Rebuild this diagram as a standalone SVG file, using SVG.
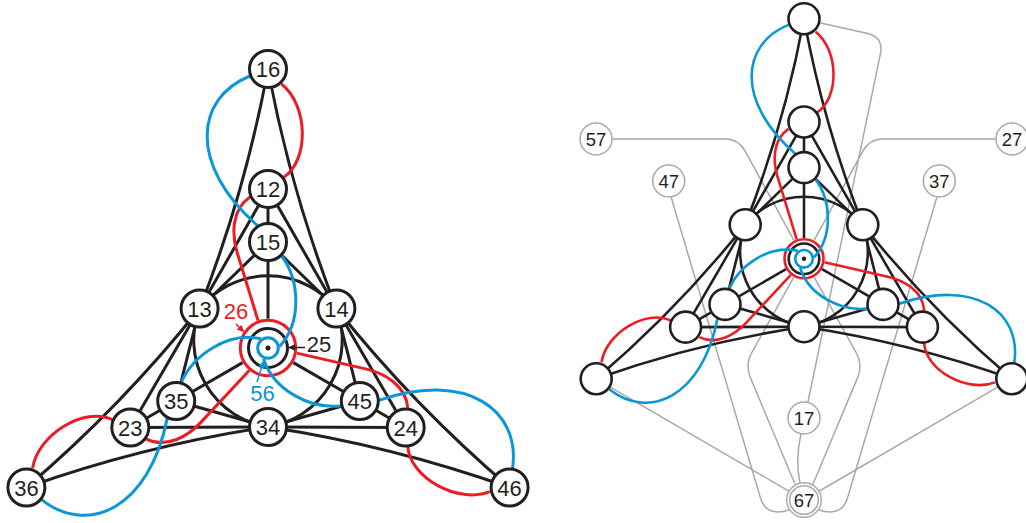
<svg xmlns="http://www.w3.org/2000/svg" width="1026" height="523" viewBox="0 0 1026 523">
<style>
.k{fill:none;stroke:#231f20;stroke-width:3}
.rd{fill:none;stroke:#ed1c24;stroke-width:3}
.bl{fill:none;stroke:#0a97d6;stroke-width:3}
.gy{fill:none;stroke:#a7a9ac;stroke-width:1.5}
.nd circle{fill:#fff;stroke:#231f20;stroke-width:3}
.rn circle{fill:#fff;stroke:#231f20;stroke-width:2.6}
.gn circle{fill:#fff;stroke:#a7a9ac;stroke-width:1.5}
text{font-family:"Liberation Sans",Arial,Helvetica,sans-serif;text-anchor:middle}
.lb{font-size:22px;fill:#231f20}
.gl{font-size:18.5px;fill:#231f20}
.ar{stroke-width:1.5;fill:none}
</style>
<defs>
<marker id="ahr" viewBox="0 0 10 10" refX="9" refY="5" markerWidth="7" markerHeight="7" markerUnits="userSpaceOnUse" orient="auto"><path d="M0,0L10,5L0,10z" fill="#ed1c24"/></marker>
<marker id="ahk" viewBox="0 0 10 10" refX="9" refY="5" markerWidth="7" markerHeight="7" markerUnits="userSpaceOnUse" orient="auto"><path d="M0,0L10,5L0,10z" fill="#231f20"/></marker>
<marker id="ahb" viewBox="0 0 10 10" refX="9" refY="5" markerWidth="7" markerHeight="7" markerUnits="userSpaceOnUse" orient="auto"><path d="M0,0L10,5L0,10z" fill="#0a97d6"/></marker>
<g id="tk" class="k">
<path d="M268,69Q245.3,192 199.6,308.5"/>
<path d="M268,69Q290.7,192 336.4,308.5"/>
<path d="M268,189V242"/>
<path d="M268,189L199.6,308.5"/>
<path d="M268,189L336.4,308.5"/>
<path d="M268,242L199.6,308.5"/>
<path d="M268,242L336.4,308.5"/>
<path d="M199.6,308.5A88,88 0 0 1 336.4,308.5"/>
</g>
<path id="spL" class="k" d="M268,242V318.7"/>
<path id="spR" class="k" d="M268,242V323.8"/>
<path id="r1" class="rd" d="M281.5,84C308,105 310,160 283,178"/>
<path id="r2L" class="rd" d="M250,197C231,210 232,235 237,252L258,320.5"/>
<path id="r2R" class="rd" d="M250,197C231,210 232,235 237,252L259.5,325.4"/>
<g id="tb" class="bl">
<path d="M250,76C195,98 188,165 258,226"/>
<path d="M281,255C300,280 302,322 279.5,346.5"/>
</g>
</defs>

<g id="node-center-left">
<circle cx="268" cy="348" r="27.7" fill="none" stroke="#ed1c24" stroke-width="3"/>
<circle cx="268" cy="348" r="19.5" fill="none" stroke="#231f20" stroke-width="3"/>
</g>
<g id="node-center-right">
<circle cx="804" cy="258.8" r="19.5" fill="none" stroke="#ed1c24" stroke-width="2.6"/>
<circle cx="804" cy="258.8" r="15.3" fill="none" stroke="#231f20" stroke-width="2.6"/>
</g>

<g id="connectors">
<g id="grey-connectors" class="gy">
<path d="M612,139L725,139Q738.5,139 745.3,151.3L793.9,240.4"/>
<path d="M814.1,277.2L856.2,352.7Q863,365 857.5,377.9L813,484"/>
<path d="M996,139L883,139Q869.5,139 862.7,151.3L814.1,240.4"/>
<path d="M793.9,277.2L751.8,352.7Q745,365 750.5,377.9L795,484"/>
<path d="M671,196.8L760.5,498Q766,517 789,510"/>
<path d="M937,196.8L847.5,498Q842,517 819,510"/>
<path d="M596.2,378.8L804,500"/>
<path d="M1011.8,378.8L804,500"/>
<path d="M818,22.5L866.8,33.3Q884.4,37.3 880.2,54.8L808,402"/>
<path d="M801,434Q795,460 800,483"/>
</g>
<g id="left-connectors">
<use href="#tk"/><use href="#tk" transform="rotate(-120 268 348)"/><use href="#tk" transform="rotate(120 268 348)"/>
<use href="#spL"/><use href="#spL" transform="rotate(-120 268 348)"/><use href="#spL" transform="rotate(120 268 348)"/>
<use href="#r1"/><use href="#r1" transform="rotate(-120 268 348)"/><use href="#r1" transform="rotate(120 268 348)"/>
<use href="#r2L"/><use href="#r2L" transform="rotate(-120 268 348)"/><use href="#r2L" transform="rotate(120 268 348)"/>
<use href="#tb"/><use href="#tb" transform="rotate(-120 268 348)"/><use href="#tb" transform="rotate(120 268 348)"/>
</g>
<g id="right-connectors" transform="matrix(0.86 0 0 0.86 573.52 -40.5)">
<use href="#tk"/><use href="#tk" transform="rotate(-120 268 348)"/><use href="#tk" transform="rotate(120 268 348)"/>
<use href="#spR"/><use href="#spR" transform="rotate(-120 268 348)"/><use href="#spR" transform="rotate(120 268 348)"/>
<use href="#r1"/><use href="#r1" transform="rotate(-120 268 348)"/><use href="#r1" transform="rotate(120 268 348)"/>
<use href="#r2R"/><use href="#r2R" transform="rotate(-120 268 348)"/><use href="#r2R" transform="rotate(120 268 348)"/>
<use href="#tb"/><use href="#tb" transform="rotate(-120 268 348)"/><use href="#tb" transform="rotate(120 268 348)"/>
</g>
<g id="label-arrows" class="ar">
<path d="M236,324L243.5,331.5" stroke="#ed1c24" marker-end="url(#ahr)"/>
<path d="M305,347.5H289" stroke="#231f20" marker-end="url(#ahk)"/>
<path d="M257,382L263.5,361.5" stroke="#0a97d6" marker-end="url(#ahb)"/>
</g>
</g>

<g id="node-56-left">
<circle cx="268" cy="348" r="10.3" fill="none" stroke="#0a97d6" stroke-width="3"/>
<circle cx="268" cy="348" r="2.5" fill="#231f20"/>
</g>
<g id="node-56-right">
<circle cx="804" cy="258.8" r="8.8" fill="none" stroke="#0a97d6" stroke-width="2.6"/>
<circle cx="804" cy="258.8" r="2.2" fill="#231f20"/>
</g>

<g id="node-16" class="nd"><circle cx="268" cy="69" r="18.5"/><text class="lb" x="268" y="77">16</text></g>
<g id="node-12" class="nd"><circle cx="268" cy="189" r="18.5"/><text class="lb" x="268" y="197">12</text></g>
<g id="node-15" class="nd"><circle cx="268" cy="242" r="18.5"/><text class="lb" x="268" y="250">15</text></g>
<g id="node-13" class="nd"><circle cx="199.6" cy="308.5" r="18.5"/><text class="lb" x="199.6" y="316.5">13</text></g>
<g id="node-14" class="nd"><circle cx="336.4" cy="308.5" r="18.5"/><text class="lb" x="336.4" y="316.5">14</text></g>
<g id="node-35" class="nd"><circle cx="176.2" cy="401" r="18.5"/><text class="lb" x="176.2" y="409">35</text></g>
<g id="node-45" class="nd"><circle cx="359.8" cy="401" r="18.5"/><text class="lb" x="359.8" y="409">45</text></g>
<g id="node-23" class="nd"><circle cx="130.3" cy="427.5" r="18.5"/><text class="lb" x="130.3" y="435.5">23</text></g>
<g id="node-24" class="nd"><circle cx="405.7" cy="427.5" r="18.5"/><text class="lb" x="405.7" y="435.5">24</text></g>
<g id="node-34" class="nd"><circle cx="268" cy="427" r="18.5"/><text class="lb" x="268" y="435">34</text></g>
<g id="node-36" class="nd"><circle cx="26.4" cy="487.5" r="18.5"/><text class="lb" x="26.4" y="495.5">36</text></g>
<g id="node-46" class="nd"><circle cx="509.6" cy="487.5" r="18.5"/><text class="lb" x="509.6" y="495.5">46</text></g>

<g id="labels-center">
<text class="lb" x="236" y="318.5" fill="#ed1c24" style="fill:#ed1c24">26</text>
<text class="lb" x="319" y="352">25</text>
<text class="lb" x="262.5" y="401" style="fill:#0a97d6">56</text>
</g>

<g id="rnode-16" class="rn"><circle cx="804" cy="18.8" r="15.5"/></g>
<g id="rnode-12" class="rn"><circle cx="804" cy="122" r="15.5"/></g>
<g id="rnode-15" class="rn"><circle cx="804" cy="167.6" r="15.5"/></g>
<g id="rnode-13" class="rn"><circle cx="745.2" cy="224.8" r="15.5"/></g>
<g id="rnode-14" class="rn"><circle cx="862.8" cy="224.8" r="15.5"/></g>
<g id="rnode-35" class="rn"><circle cx="725" cy="304.4" r="15.5"/></g>
<g id="rnode-45" class="rn"><circle cx="883" cy="304.4" r="15.5"/></g>
<g id="rnode-23" class="rn"><circle cx="685.6" cy="327.1" r="15.5"/></g>
<g id="rnode-24" class="rn"><circle cx="922.4" cy="327.1" r="15.5"/></g>
<g id="rnode-34" class="rn"><circle cx="804" cy="326.7" r="15.5"/></g>
<g id="rnode-36" class="rn"><circle cx="596.2" cy="378.8" r="15.5"/></g>
<g id="rnode-46" class="rn"><circle cx="1011.8" cy="378.8" r="15.5"/></g>

<g id="gnode-57" class="gn"><circle cx="596" cy="139" r="16"/><text class="gl" x="596" y="145.6">57</text></g>
<g id="gnode-47" class="gn"><circle cx="668.7" cy="181" r="16"/><text class="gl" x="668.7" y="187.6">47</text></g>
<g id="gnode-27" class="gn"><circle cx="1012" cy="139" r="16"/><text class="gl" x="1012" y="145.6">27</text></g>
<g id="gnode-37" class="gn"><circle cx="939.3" cy="181" r="16"/><text class="gl" x="939.3" y="187.6">37</text></g>
<g id="gnode-17" class="gn"><circle cx="804" cy="418" r="16"/><text class="gl" x="804" y="424.6">17</text></g>
<g id="gnode-67" class="gn"><circle cx="804" cy="500" r="17.3"/><circle cx="804" cy="500" r="14.3"/><text class="gl" x="804" y="506.6">67</text></g>
</svg>
